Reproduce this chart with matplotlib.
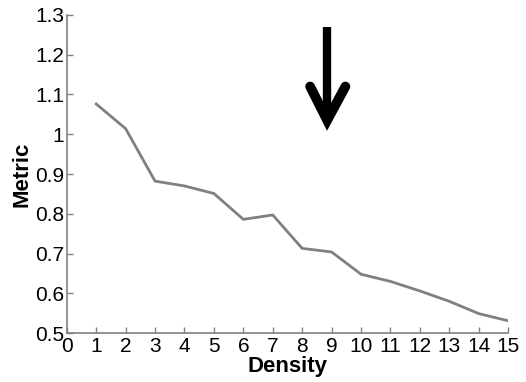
"""Density vs. metric line chart with a marker arrow."""

import matplotlib

matplotlib.use("Agg")
import matplotlib.pyplot as plt
import numpy as np

density = [1, 2, 3, 4, 5, 6, 7, 8, 9, 10, 11, 12, 13, 14, 15]
metric = [1.076, 1.014, 0.882, 0.870, 0.851, 0.786, 0.797, 0.713, 0.704,
          0.648, 0.630, 0.606, 0.580, 0.549, 0.531]

x_ticks = list(range(0, 16))
y_ticks = [0.5, 0.6, 0.7, 0.8, 0.9, 1.0, 1.1, 1.2, 1.3]
y_tick_labels = ["0.5", "0.6", "0.7", "0.8", "0.9", "1", "1.1", "1.2", "1.3"]

plt.rcParams["font.family"] = ["Liberation Sans", "DejaVu Sans"]

fig = plt.figure(figsize=(5.26, 3.82), dpi=100)
ax = fig.add_axes([0.127, 0.128, 0.839, 0.833])

ax.plot(density, metric, color="#808080", linewidth=2.0)

# arrow marking the point of interest
arrow_x = 8.85
ax.plot([arrow_x, arrow_x], [1.27, 1.05], color="black", linewidth=6,
        solid_capstyle="butt")
ax.plot([arrow_x - 0.58, arrow_x, arrow_x + 0.62], [1.12, 1.035, 1.12],
        color="black", linewidth=7, solid_capstyle="round",
        solid_joinstyle="miter")

ax.set_xlim(0, 15)
ax.set_ylim(0.5, 1.3)
ax.set_xticks(x_ticks)
ax.set_yticks(y_ticks)
ax.set_yticklabels(y_tick_labels)
ax.tick_params(direction="in", length=4, width=1, color="#808080",
               labelsize=15, pad=2)
ax.tick_params(axis="x", pad=3)

for side in ("top", "right"):
    ax.spines[side].set_visible(False)
for side in ("left", "bottom"):
    ax.spines[side].set_color("#808080")
    ax.spines[side].set_linewidth(1.2)

ax.set_xlabel("Density", fontsize=16, fontweight="bold", labelpad=0)
ax.set_ylabel("Metric", fontsize=16, fontweight="bold", labelpad=2)

fig.savefig("out.png", dpi=100)
